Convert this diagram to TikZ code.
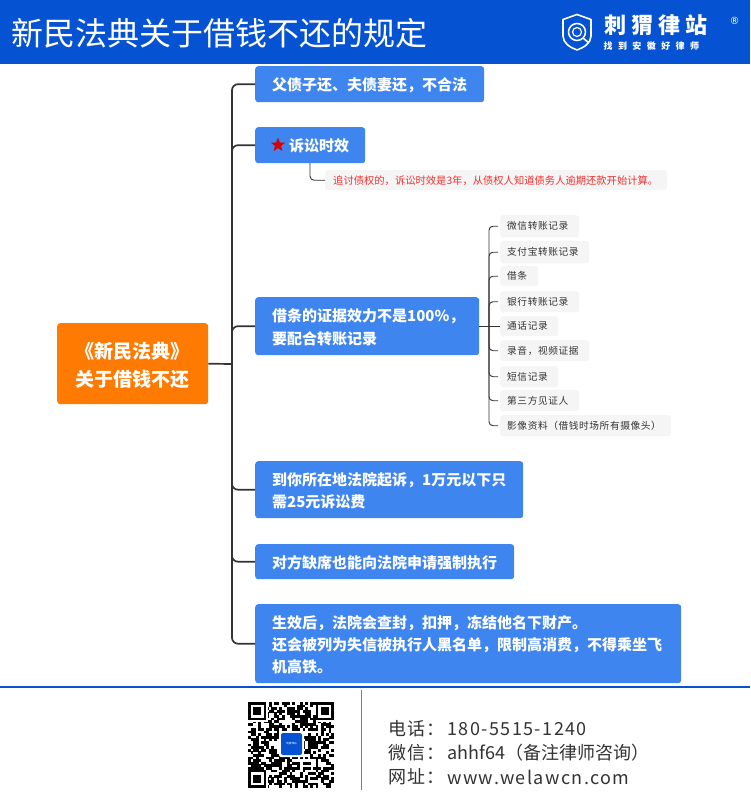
\documentclass[tikz,border=0pt]{standalone}
\usepackage{fontspec}
\setmainfont{Noto Sans CJK SC}
\newfontfamily\spaced[LetterSpace=6]{Noto Sans CJK SC}
\newfontfamily\spacedb[LetterSpace=8]{Noto Sans CJK SC}
\newfontfamily\logofont[LetterSpace=23]{Noto Sans CJK SC}
\newfontfamily\logosmall[LetterSpace=60]{Noto Sans CJK SC}
\newfontfamily\regfont{DejaVu Sans}
\usetikzlibrary{shapes.geometric}
\definecolor{hdr}{HTML}{0552D2}
\definecolor{blu}{HTML}{3F85F0}
\definecolor{org}{HTML}{FF7A00}
\definecolor{lt}{HTML}{F5F5F5}
\definecolor{ink}{HTML}{333333}
\definecolor{redt}{HTML}{F03030}
\tikzset{
 x=1pt,y=-1pt,
 box/.style={draw=none,rounded corners=3pt,inner sep=0pt,anchor=north west,text=white},
 bluebox/.style={box,fill=blu},
 subbox/.style={box,fill=lt,text=ink},
 main/.style={draw=ink,line width=1.7pt,rounded corners=6pt},
 thin/.style={draw=ink,line width=.9pt,rounded corners=4pt},
 lbl/.style={font=\fontsize{15}{22.3}\selectfont\bfseries,text=white,anchor=west,align=left,inner sep=0pt},
}
\newcommand{\bnode}[6]{% name x1 y1 x2 y2 text
 \node[bluebox,minimum width=#4pt-#2pt,minimum height=#5pt-#3pt] (#1) at (#2,#3) {};
 \node[lbl] (#1t) at ([xshift=17pt,yshift=-1pt]#1.west) {#6};
}
\newcommand{\snode}[6]{%
 \node[subbox,minimum width=#4pt-#2pt,minimum height=#5pt-#3pt] (#1) at (#2,#3) {};
 \node[font=\fontsize{9.7}{12}\selectfont,text=ink,anchor=west,inner sep=0pt] (#1t) at ([xshift=7pt]#1.west) {\addfontfeature{LetterSpace=6}#6};
}
\begin{document}
\begin{tikzpicture}
\useasboundingbox (0,0) rectangle (750,800);
\fill[white] (0,0) rectangle (750,800);
% header
\fill[hdr] (0,0) rectangle (750,64);
\node[anchor=west,inner sep=0pt,text=white,font=\fontsize{32}{36}\selectfont] (title) at (11,33) {新民法典关于借钱不还的规定};
% logo
\draw[white,line width=1.6pt,line join=round] (577,14.5) -- (591,19.5) -- (591,36) .. controls (591,43) and (584,47.5) .. (577,50) .. controls (570,47.5) and (563,43) .. (563,36) -- (563,19.5) -- cycle;
\draw[white,line width=1.5pt] (577,32) circle (8.5);
\draw[white,line width=1.2pt] (577,32) circle (4.5);
\draw[white,line width=1.6pt] (583,38) -- (589,43);
\node[anchor=west,inner sep=0pt,text=white,font=\fontsize{22}{24}\selectfont\logofont\bfseries] (lg) at (604,25) {刺猬律站};
\node[anchor=west,inner sep=0pt,text=white,font=\fontsize{9}{10}\selectfont\logosmall\bfseries] (lgs) at (603.5,46) {找到安徽好律师};
\node[anchor=center,inner sep=0pt,text=white,font=\fontsize{10}{11}\selectfont\regfont] (reg) at (734.5,21) {®};
% root
\node[box,fill=org,minimum width=151pt,minimum height=81pt] (root) at (57,323) {};
\node[inner sep=0pt,text=white,font=\fontsize{19}{28}\selectfont\bfseries,align=center] (roott) at ([yshift=-1.5pt]root.center) {《新民法典》\\关于借钱不还};
% main nodes
\bnode{a}{255}{66}{484}{102}{父债子还、夫债妻还，不合法}
\node[bluebox,minimum width=110pt,minimum height=36pt] (b) at (255,127) {};
\node[star,star points=5,star point ratio=2.4,fill=red!85!black,inner sep=0pt,minimum size=15pt] (bs) at (278,145) {};
\node[lbl] (bt) at (289,146) {诉讼时效};
\bnode{c}{255}{297}{479}{355}{借条的证据效力不是100\%，\\要配合转账记录}
\bnode{d}{255}{461}{523}{518}{到你所在地法院起诉，1万元以下只\\需25元诉讼费}
\bnode{e}{255}{544}{514}{579}{对方缺席也能向法院申请强制执行}
\bnode{f}{255}{604}{681}{683}{生效后，法院会查封，扣押，冻结他名下财产。\\还会被列为失信被执行人黑名单，限制高消费，不得乘坐飞\\机高铁。}
% note
\node[box,fill=lt,minimum width=342pt,minimum height=20pt] (note) at (325,170) {};
\node[anchor=west,inner sep=0pt,text=redt,font=\fontsize{10.3}{12}\selectfont] (notet) at (333,180.5) {追讨债权的，诉讼时效是3年，从债权人知道债务人逾期还款开始计算。};
% sub nodes
\snode{s1}{500}{215}{579}{237}{微信转账记录}
\snode{s2}{500}{241}{589}{263}{支付宝转账记录}
\snode{s3}{500}{266}{538}{286}{借条}
\snode{s4}{500}{291}{579}{312}{银行转账记录}
\snode{s5}{500}{316}{558}{336}{通话记录}
\snode{s6}{500}{340}{589}{361}{录音，视频证据}
\snode{s7}{500}{366}{558}{387}{短信记录}
\snode{s8}{500}{390}{579}{411}{第三方见证人}
\snode{s9}{500}{415}{671}{436}{影像资料（借钱时场所有摄像头）}
% connectors
\coordinate (hub) at (232,364);
\draw[main] (root.east) -- (hub);
\foreach \n in {a,b,c,d,e,f} \draw[main] (hub) |- (\n.west);
\coordinate (hubs) at (489,326);
\draw[thin] (c.east) -- (s5.west);
\foreach \n in {s1,s2,s3,s4,s6,s7,s8,s9} \draw[thin] (hubs) |- ([xshift=-2pt]\n.west);
\coordinate (bd) at (310,163);
\draw[thin] (bd) |- (note.west);
% footer
\draw[hdr,line width=2pt] (0,687) -- (750,687);
\draw[gray,line width=.9pt] (361,690) -- (361,790);
% QR
\begin{scope}
\pgfmathsetseed{4242}
\def\qx{248}\def\qy{702}\def\qs{2.6}
\foreach \i in {0,...,32}{
 \foreach \j in {0,...,32}{
  \pgfmathtruncatemacro{\r}{random(0,99)}
  \ifnum\r<52
   \fill[black] (\qx+\i*\qs,\qy+\j*\qs) rectangle ++(\qs+.1,\qs+.1);
  \fi
 }
}
\foreach \ox/\oy in {0/0,26/0,0/26}{
 \fill[white] (\qx+\ox*\qs-\qs*.0,\qy+\oy*\qs) rectangle ++(7.6*\qs,7.6*\qs);
 \fill[black] (\qx+\ox*\qs,\qy+\oy*\qs) rectangle ++(7*\qs,7*\qs);
 \fill[white] (\qx+\ox*\qs+\qs,\qy+\oy*\qs+\qs) rectangle ++(5*\qs,5*\qs);
 \fill[black] (\qx+\ox*\qs+2*\qs,\qy+\oy*\qs+2*\qs) rectangle ++(3*\qs,3*\qs);
}
\fill[white,rounded corners=2pt] (279,731) rectangle (304,757);
\fill[hdr,rounded corners=2pt] (281,733) rectangle (302,755);
\node[inner sep=0pt,text=white,font=\fontsize{2.6}{3}\selectfont] (qrl) at (291.5,744) {刺猬律站};
\end{scope}
% contact
\tikzset{ct/.style={anchor=west,inner sep=0pt,text=ink,font=\fontsize{18}{20}\selectfont}}
\node[ct] (c1) at (388,729) {\spaced 电话：};
\node[ct] (c1b) at (447,729) {\spacedb 180-5515-1240};
\node[ct] (c2) at (388,753) {\spaced 微信：};
\node[ct] (c2b) at (447,753) {ahhf64（备注律师咨询）};
\node[ct] (c3) at (388,777) {\spaced 网址：};
\node[ct] (c3b) at (447,777) {\spacedb www.welawcn.com};
\end{tikzpicture}
\end{document}
